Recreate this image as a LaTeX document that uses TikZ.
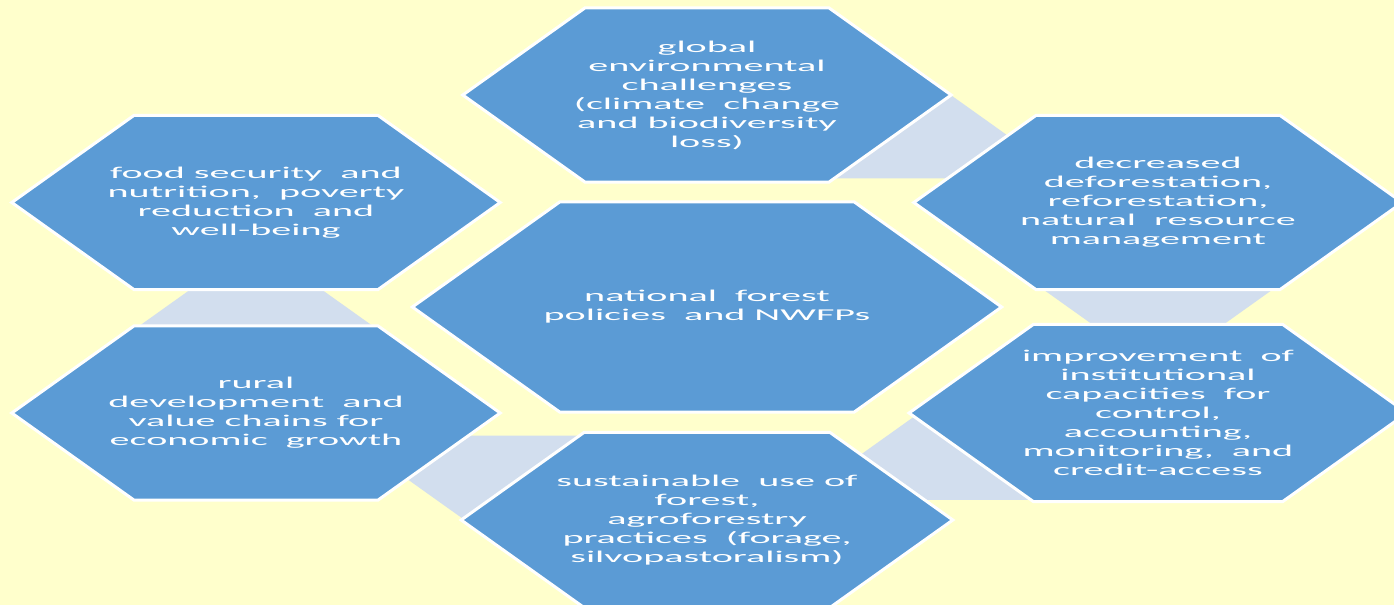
\documentclass[tikz,border=0pt]{standalone}
\usepackage{fontspec}
\setmainfont{Carlito}
\usetikzlibrary{shapes.geometric}
\definecolor{hexblue}{RGB}{91,155,213}
\definecolor{linkgray}{RGB}{210,222,238}
\definecolor{pagebg}{RGB}{255,255,204}
\begin{document}
\begin{tikzpicture}[x=2.43pt, y=1pt,
  hexa/.style={regular polygon, regular polygon sides=6, xscale=2.43, inner sep=0pt,
    minimum size=201pt, fill=hexblue, draw=white, line width=3pt, text=white,
    align=center, font=\fontsize{16.5}{19}\selectfont},
  hexlink/.style={regular polygon, regular polygon sides=6, xscale=2.43, inner sep=0pt,
    minimum size=100.5pt, fill=linkgray}]
  % Background of the slide
  \fill[pagebg] (-290.95,-298) rectangle (282.72,307);
  \useasboundingbox (-290.95,-298) rectangle (282.72,307);
  % Small link hexagons (half hidden behind the big ones)
  \node[hexlink] (l1) at (67:187)   {};
  \node[hexlink] (l2) at (7:187)    {};
  \node[hexlink] (l3) at (-53:187)  {};
  \node[hexlink] (l4) at (-113:187) {};
  \node[hexlink] (l5) at (-173:187) {};
  % Central hexagon
  \node[hexa, minimum size=242.5pt] (nfp) at (0,0) {national~~forest\\policies~~and NWFPs};
  % Six outer hexagons
  \node[hexa] (glob)  at (0,212)        {global\\environmental\\challenges\\(climate~~change\\and biodiversity\\loss)};
  \node[hexa] (defo)  at (185.6,104.5)  {decreased\\deforestation,\\reforestation,\\natural~~resource\\management};
  \node[hexa] (inst)  at (185.6,-106)   {improvement~~of\\institutional\\capacities~~for\\control,\\accounting,\\monitoring,~~and\\credit-access};
  \node[hexa] (sust)  at (0,-213)       {sustainable~~use of\\forest,\\agroforestry\\practices~~(forage,\\silvopastoralism)};
  \node[hexa] (rural) at (-185.6,-106)  {rural\\development~~and\\value chains for\\economic~~growth};
  \node[hexa] (food)  at (-185.6,104.5) {food security~~and\\nutrition,~~poverty\\reduction~~and\\well-being};
\end{tikzpicture}
\end{document}
